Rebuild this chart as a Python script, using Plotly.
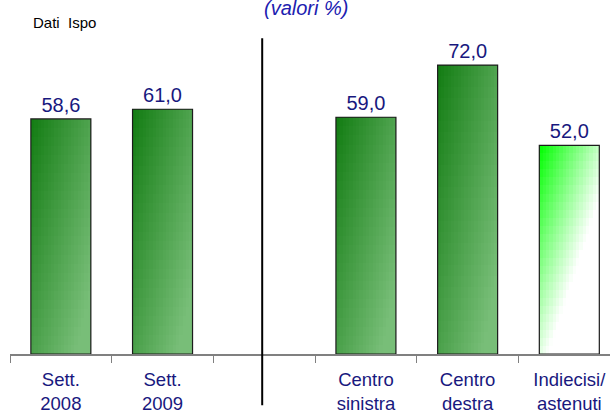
import plotly.graph_objects as go

# ---- data ----
categories = ["Sett.<br>2008", "Sett.<br>2009", " ", "Centro<br>sinistra", "Centro<br>destra", "Indiecisi/<br>astenuti"]
values = [58.6, 61.0, None, 59.0, 72.0, 52.0]
gradient_style = ["green", "green", None, "green", "green", "light"]

title_text = "(valori %)"
source_text = "Dati  Ispo"

# ---- styling ----
FONT = "Liberation Sans, Arial, sans-serif"
NAVY = "#18187e"
BAR_W = 0.59
N_COLS = 18
N_ROWS = 26


def lerp(c0, c1, t):
    t = max(0.0, min(1.0, t))
    return "rgb(%d,%d,%d)" % tuple(round(a + (b - a) * t) for a, b in zip(c0, c1))


def cell_color(style, xf, yf):
    if style == "green":
        return lerp((18, 124, 18), (120, 190, 120), 0.6 * xf + 0.55 * yf)
    return lerp((0, 255, 0), (255, 255, 255), 0.774 * xf + 0.888 * yf)


fig = go.Figure()

col_w = BAR_W / N_COLS
for i in range(N_COLS):
    off = -BAR_W / 2 + i * col_w
    wid = min(col_w * 1.5, BAR_W / 2 - off)
    xs, ys, bases, cols = [], [], [], []
    xf = (i + 0.5) / N_COLS
    for cat, v, st in zip(categories, values, gradient_style):
        if v is None:
            continue
        seg = v / N_ROWS
        for j in range(N_ROWS):
            b = j * seg
            h = min(seg * 1.5, v - b)
            yf = 1 - (j + 0.5) / N_ROWS
            xs.append(cat)
            ys.append(h)
            bases.append(b)
            cols.append(cell_color(st, xf, yf))
    fig.add_trace(go.Bar(
        x=xs, y=ys, base=bases, width=wid, offset=off,
        marker=dict(color=cols, line=dict(width=0)),
        hoverinfo="skip", showlegend=False,
    ))

# outline + value labels
labels = [("" if v is None else f"{v:.1f}".replace(".", ",")) for v in values]
fig.add_trace(go.Bar(
    x=categories, y=values, width=BAR_W,
    marker=dict(color="rgba(0,0,0,0)", line=dict(color="#1c1c1c", width=1.2)),
    text=labels, textposition="outside", constraintext="none",
    textfont=dict(family=FONT, size=20, color=NAVY),
    cliponaxis=False, hoverinfo="skip", showlegend=False,
))

fig.update_layout(
    width=610, height=414,
    margin=dict(l=10, r=0, t=33, b=60),
    paper_bgcolor="white", plot_bgcolor="white",
    barmode="overlay", bargap=0,
    font=dict(family=FONT, color=NAVY),
    xaxis=dict(
        type="category", categoryorder="array", categoryarray=categories,
        range=[-0.5, 5.4], showline=True, linecolor="#808080", linewidth=2,
        ticks="outside", tickson="boundaries", ticklen=7, tickcolor="#808080", tickwidth=1,
        ticklabelstandoff=8, ticklabeloverflow="allow",
        tickfont=dict(family=FONT, size=18.5, color=NAVY), showgrid=False, zeroline=False,
    ),
    yaxis=dict(range=[0, 80], visible=False, showgrid=False),
    shapes=[dict(type="line", xref="x", yref="paper", x0=1.98, x1=1.98, y0=-0.16, y1=0.984,
                 line=dict(color="black", width=2))],
    annotations=[
        dict(text="<i>" + title_text + "</i>", xref="paper", yref="paper", x=0.493, y=1.079,
             xanchor="center", yanchor="middle", showarrow=False,
             font=dict(family=FONT, size=20, color="#2020b0")),
        dict(text=source_text, xref="paper", yref="paper", x=0.035, y=1.034,
             xanchor="left", yanchor="middle", showarrow=False,
             font=dict(family=FONT, size=15, color="black")),
    ],
)

fig.write_html(
    "out.html",
    config={"displayModeBar": False, "staticPlot": True},
    post_script="document.body.style.margin='0';document.body.style.overflow='hidden';",
)
